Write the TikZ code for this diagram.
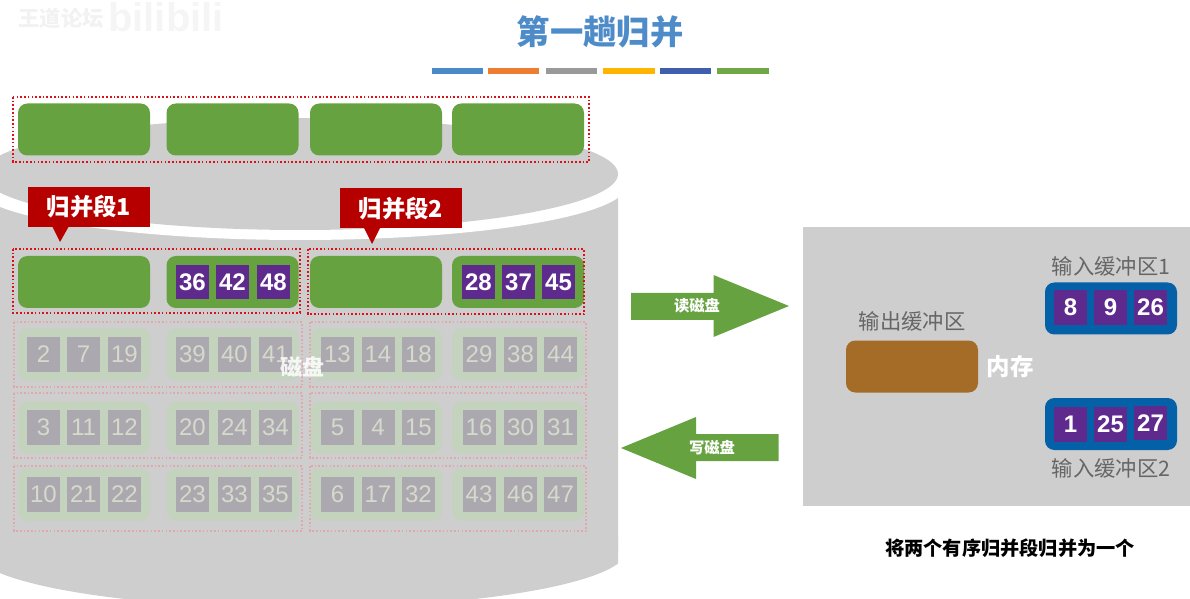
\documentclass[tikz,border=0pt]{standalone}
\usepackage{fontspec}
\setmainfont{Liberation Sans}
\newfontfamily\cjk{Noto Sans CJK SC}
\usetikzlibrary{positioning}
\newcommand{\fsize}[1]{\fontsize{#1}{#1}\selectfont}
\definecolor{diskgray}{HTML}{CECECE}
\definecolor{blockgreen}{HTML}{66A340}
\definecolor{cellpurple}{HTML}{5F2A8E}
\definecolor{tagred}{HTML}{B60000}
\definecolor{dotred}{HTML}{DC1018}
\definecolor{bufblue}{HTML}{0461A8}
\definecolor{bufbrown}{HTML}{A56C27}
\definecolor{fadegreen}{HTML}{C4D3BE}
\definecolor{fadecell}{HTML}{ABA9AF}
\definecolor{fadetext}{HTML}{D5DACB}
\definecolor{fadered}{HTML}{E0A8A8}
\definecolor{labelgray}{HTML}{666666}
\definecolor{titleblue}{HTML}{4D8BC9}
\definecolor{barA}{HTML}{4A8AC8}
\definecolor{barB}{HTML}{ED7D31}
\definecolor{barC}{HTML}{999999}
\definecolor{barD}{HTML}{FFB400}
\definecolor{barE}{HTML}{3F5FAE}
\definecolor{barF}{HTML}{70A845}
\def\cellx{{43.5,83.5,124.5,192.5,234.5,275.5,337.5,378,418.5,479,520.5,560.5}}

\begin{document}
\begin{tikzpicture}[x=0.75pt,y=-0.75pt]
    \tikzstyle{block}=[rectangle,rounded corners=7pt,minimum width=99pt,minimum height=39pt,inner sep=0pt,fill=blockgreen]
    \tikzstyle{fade block}=[block,fill=fadegreen]
    \tikzstyle{cell}=[rectangle,minimum width=24.75pt,minimum height=26pt,inner sep=0pt,fill=cellpurple,text=white,font=\fsize{18}\bfseries]
    \tikzstyle{fade cell}=[cell,fill=fadecell,text=fadetext,font=\fsize{18}]
    \tikzstyle{dotted box}=[draw=dotred,line width=1.6pt,dash pattern=on 1.2pt off 1.6pt]
    \tikzstyle{fade box}=[dotted box,draw=fadered,line width=1.2pt]
    \tikzstyle{tag}=[rectangle,minimum width=91.5pt,minimum height=30pt,inner sep=0pt,fill=tagred,text=white,font=\cjk\bfseries\fsize{17.5}]
    \tikzstyle{buffer}=[rectangle,rounded corners=7pt,minimum width=99pt,minimum height=39pt,inner sep=0pt,fill=bufblue]
    \tikzstyle{buffer label}=[text=labelgray,font=\cjk\fsize{16}]
    \tikzstyle{arrow label}=[text=white,font=\cjk\bfseries\fsize{11.5}]

    \useasboundingbox (0,0) rectangle (1190,599);
    \clip (0,0) rectangle (1190,599);

    % Draw the watermark and the title
    \node[text=black!5,font=\cjk\bfseries\fsize{16}] (mark) at (61,18) {王道论坛};
    \node[text=black!4,font=\bfseries\fsize{30}] (logo) at (166,17) {bilibili};
    \node[text=titleblue,font=\cjk\bfseries\fsize{25}] (title) at (600,32) {第一趟归并};
    \foreach \x/\w/\c in {432/51/barA,488/51/barB,546/51/barC,603/52/barD,660/51/barE,717/52/barF}
        \fill[\c] (\x,68) rectangle ++(\w,6);

    % Draw the disk
    \begin{scope}
        \clip (-40,0) rectangle (618,599);
        \fill[diskgray] (-27,185) rectangle (627,550);
        \fill[diskgray] (300,550) ellipse [x radius=327, y radius=58];
    \end{scope}
    \fill[white] (300,185) ellipse [x radius=327, y radius=55];
    \fill[diskgray] (300,174) ellipse [x radius=318, y radius=56];

    % Draw the top row of blocks
    \foreach \name / \x in {1/84,2/232.5,3/376,4/518}
        \node[block] (T-\name) at (\x,129.5) {};
    \draw[dotted box] (13,97) rectangle (589,162);

    % Draw the row that is being merged
    \foreach \name / \x in {1/84,2/232.5,3/376,4/518}
        \node[block] (R-\name) at (\x,282) {};
    \foreach \name / \x / \v in {1/192.5/36,2/232.5/42,3/273.5/48,4/478.5/28,5/518.5/37,6/558.5/45}
        \node[cell] (C-\name) at (\x,282) {\v};
    \draw[dotted box] (13,249) rectangle (300,313);
    \draw[dotted box] (308,249) rectangle (584,314);

    % Draw the faded rows
    \foreach \row / \y / \top / \vals in {2/354.5/322/{2,7,19,39,40,41,13,14,18,29,38,44},
                                          3/427.5/393/{3,11,12,20,24,34,5,4,15,16,30,31},
                                          4/494.5/466/{10,21,22,23,33,35,6,17,32,43,46,47}}
    {
        \foreach \name / \x in {1/84,2/232.5,3/376,4/518}
            \node[fade block] (F-\row-\name) at (\x,\y) {};
        \foreach \v [count=\i] in \vals {
            \pgfmathsetmacro\cx{\cellx[\i-1]}
            \node[fade cell] (N-\row-\i) at (\cx,\y) {\v};
        }
        \draw[fade box] (14,\top) rectangle (302,\top+65);
        \draw[fade box] (310,\top) rectangle (586,\top+65);
    }
    \node[text=white,opacity=0.85,font=\cjk\bfseries\fsize{16.5}] (disk) at (302,367) {磁盘};

    % Draw the two tags
    \node[tag] (S-1) at (89,207) {归并段1};
    \fill[tagred] (52,226) -- (69,226) -- (60,242) -- cycle;
    \node[tag] (S-2) at (401,208.5) {归并段2};
    \fill[tagred] (364,228) -- (380,228) -- (372,244) -- cycle;

    % Draw the block arrows
    \fill[blockgreen] (631,293) -- (713.5,293) -- (713.5,275) -- (789,306) -- (713.5,337) -- (713.5,320) -- (631,320) -- cycle;
    \node[arrow label] (read) at (697,306) {读磁盘};
    \fill[blockgreen] (778.5,434) -- (696,434) -- (696,417) -- (621,448) -- (696,479) -- (696,461) -- (778.5,461) -- cycle;
    \node[arrow label] (write) at (712,448) {写磁盘};

    % Draw the memory
    \fill[diskgray] (802.5,227) rectangle (1190,506);
    \node[buffer,fill=bufbrown] (O) at (912,366.5) {};
    \node[buffer label,above=3pt of O] (O-label) {输出缓冲区};
    \node[text=white,font=\cjk\bfseries\fsize{17.6}] (mem) at (1010,367) {内存};
    \node[buffer] (B-1) at (1111,308.5) {};
    \node[buffer] (B-2) at (1111,424) {};
    \foreach \name / \x / \y / \v in {1/1070.5/307.5/8,2/1110.5/307.5/9,3/1150.5/307.5/26,4/1070.5/424.5/1,5/1110.5/424.5/25,6/1150.5/423/27}
        \node[cell] (M-\name) at (\x,\y) {\v};
    \node[buffer label] (B-1-label) at (1111,266) {输入缓冲区1};
    \node[buffer label] (B-2-label) at (1111,468) {输入缓冲区2};

    \node[font=\cjk\bfseries\fsize{14.4}] (note) at (1010,548) {将两个有序归并段归并为一个};
\end{tikzpicture}
\end{document}
